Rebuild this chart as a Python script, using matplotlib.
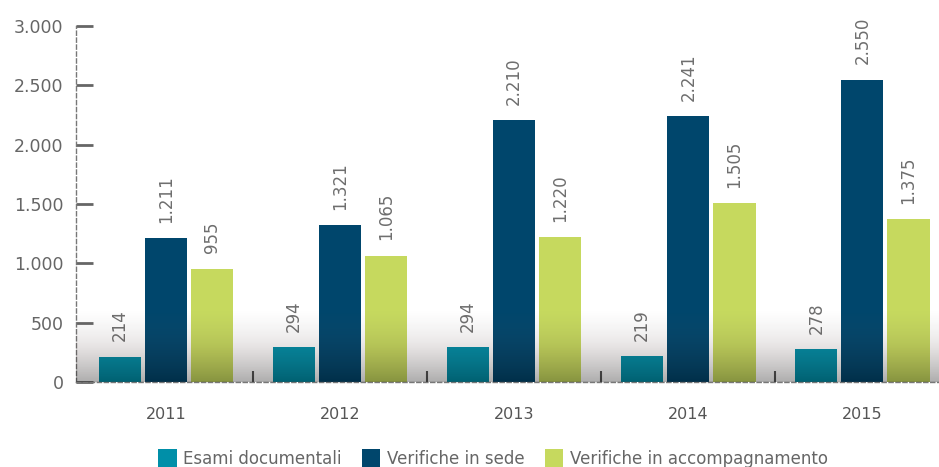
import numpy as np
import matplotlib.pyplot as plt
from matplotlib.colors import LinearSegmentedColormap

plt.rcParams['font.family'] = ['DejaVu Sans']

years = ['2011', '2012', '2013', '2014', '2015']
series_names = ['Esami documentali', 'Verifiche in sede', 'Verifiche in accompagnamento']
esami = [214, 294, 294, 219, 278]
sede = [1211, 1321, 2210, 2241, 2550]
accomp = [955, 1065, 1220, 1505, 1375]
colors = ['#008fa8', '#00466c', '#c6d95e']
y_ticks = [0, 500, 1000, 1500, 2000, 2500, 3000]


def fmt(v):
    return f'{v:,}'.replace(',', '.')


fig = plt.figure(figsize=(9.39, 4.67), dpi=100)
ax = fig.add_axes([0.081, 0.182, 0.919, 0.762])

x = np.arange(len(years))
width = 0.242
step = 0.265
for i, (vals, col, name) in enumerate(zip([esami, sede, accomp], colors, series_names)):
    pos = x + (i - 1) * step
    ax.bar(pos, vals, width, color=col, label=name, zorder=2)
    for p, v in zip(pos, vals):
        ax.annotate(fmt(v), (p, v), xytext=(0, 11), textcoords='offset points',
                    rotation=90, ha='center', va='bottom', fontsize=12,
                    color='#6e6e6e', annotation_clip=False)

ax.set_xlim(-0.517, 4.44)
ax.set_ylim(0, 3000)

# shadow near the base
shade = LinearSegmentedColormap.from_list('shade', [(0, 0, 0, 0.32), (0.2, 0.12, 0.12, 0.12), (0.5, 0.45, 0.45, 0.0)])
grad = np.linspace(0, 1, 200).reshape(-1, 1)
ax.imshow(grad, aspect='auto', cmap=shade, origin='lower',
          extent=[-0.517, 4.44, 0, 600], zorder=3)

ax.set_yticks(y_ticks)
ax.set_yticklabels([fmt(v) for v in y_ticks])
ax.set_xticks(x)
ax.set_xticklabels(years)
ax.set_xticks(x[:-1] + 0.5, minor=True)

ax.tick_params(axis='y', direction='in', length=12, width=2, color='#666666',
               labelsize=12.5, labelcolor='#666666', pad=9)
ax.tick_params(axis='x', which='major', length=0, labelsize=11.5, labelcolor='#555555', pad=18)
ax.tick_params(axis='x', which='minor', direction='in', length=8, width=1.5, color='#555555')

for s in ['top', 'right']:
    ax.spines[s].set_visible(False)
for s in ['left', 'bottom']:
    ax.spines[s].set_linestyle((0, (3, 2)))
    ax.spines[s].set_color('#777777')
    ax.spines[s].set_linewidth(1)

leg = fig.legend(loc='lower center', bbox_to_anchor=(0.525, -0.035), ncol=3, frameon=False,
                 fontsize=12, handlelength=1.1, handleheight=1.45, handletextpad=0.4,
                 columnspacing=1.2)
for t in leg.get_texts():
    t.set_color('#666666')

fig.savefig('out.png', dpi=100)
